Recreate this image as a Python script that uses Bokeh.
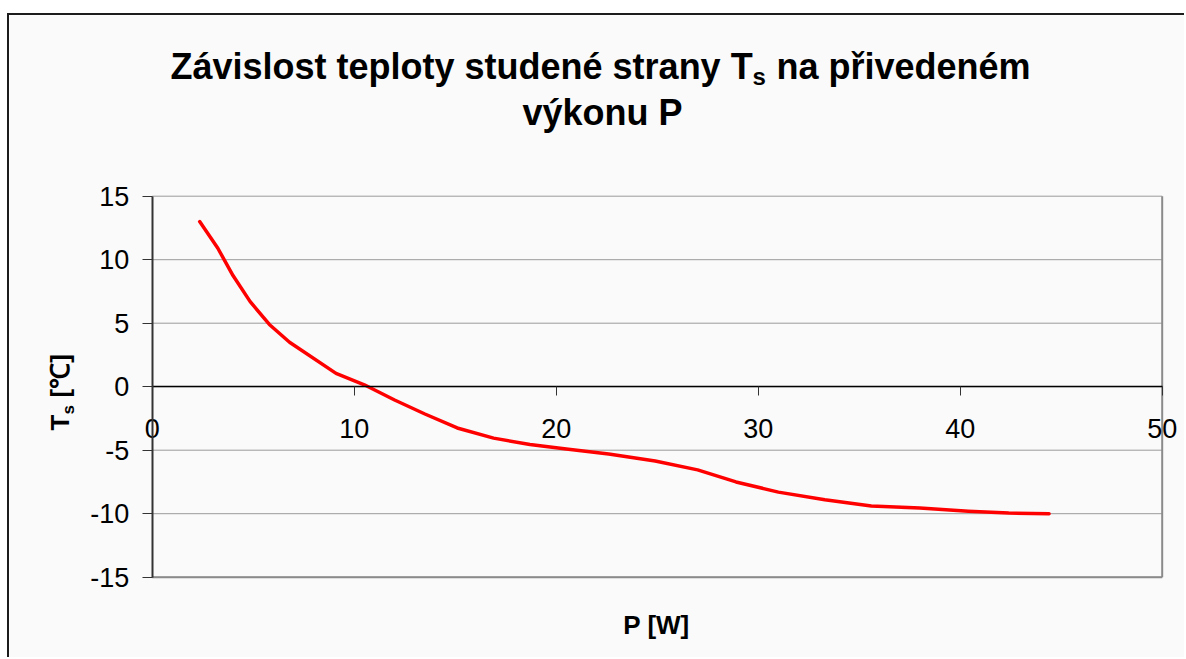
import math
from bokeh.plotting import figure
from bokeh.models import Range1d, LinearAxis, FixedTicker, PrintfTickFormatter
from bokeh.core.properties import value
from bokeh.embed import file_html
from bokeh.resources import INLINE

# Data
P = [2.35, 3.25, 4.0, 4.85, 5.8, 6.8, 9.1, 10.5, 12.0, 13.5, 15.1, 16.9, 18.7,
     20.5, 22.6, 24.9, 27.0, 28.9, 31.0, 33.3, 35.6, 38.0, 40.4, 42.4, 44.4]
Ts = [13.0, 10.9, 8.75, 6.7, 4.9, 3.5, 1.05, 0.15, -1.05, -2.15, -3.25, -4.05, -4.55,
      -4.9, -5.3, -5.85, -6.55, -7.5, -8.3, -8.9, -9.4, -9.55, -9.8, -9.95, -10.0]
x_ticks = [0, 10, 20, 30, 40, 50]
y_ticks = [-15, -10, -5, 0, 5, 10, 15]

FONT = "Liberation Sans"
BG = "#fafafa"
W, H = 1177, 644
OX, OY = 9, 15            # page position of canvas origin
X0PX, XSC = 151.7, 20.2   # page x of P=0, px per unit
Y0PX, YSC = 386.2, 12.7   # page y of T=0, px per unit


def xd(px):
    return (px - X0PX) / XSC


def yd(py):
    return (Y0PX - py) / YSC


p = figure(width=W, height=H, output_backend="svg", toolbar_location=None,
           x_range=Range1d(xd(OX), xd(OX + W)), y_range=Range1d(yd(OY + H), yd(OY)),
           x_axis_location=None, y_axis_location=None,
           min_border=0)
p.styles = {"border-left": "2px solid #1c1c1c", "border-top": "2px solid #1c1c1c",
            "margin-top": "13px", "margin-left": "7px"}
p.background_fill_color = BG
p.border_fill_color = BG
p.outline_line_color = None
p.xgrid.visible = False
p.ygrid.visible = False

# horizontal gridlines of the plot area
p.segment(x0=x_ticks[0], x1=x_ticks[-1], y0=y_ticks, y1=y_ticks,
          line_color="#9a9a9a", line_width=1)
# right and bottom edges of the plot area
p.segment(x0=[x_ticks[0], x_ticks[-1]], x1=[x_ticks[-1], x_ticks[-1]],
          y0=[y_ticks[0], y_ticks[0]], y1=[y_ticks[0], y_ticks[-1]],
          line_color="#8a8a8a", line_width=2)

# data line
p.line(P, Ts, line_color="#ff0000", line_width=3.5, line_join="round",
       line_cap="round")

# x axis crossing at T = 0
xa = LinearAxis(fixed_location=0, ticker=FixedTicker(ticks=x_ticks),
                bounds=(x_ticks[0], x_ticks[-1]),
                formatter=PrintfTickFormatter(format="%d"))
xa.major_tick_in = 0
xa.major_tick_out = 9
xa.minor_tick_out = 0
xa.minor_tick_in = 0
xa.axis_line_color = "black"
xa.axis_line_width = 1.5
xa.major_tick_line_color = "#333333"
xa.major_label_text_font = FONT
xa.major_label_text_font_size = "27px"
xa.major_label_text_color = "black"
xa.major_label_standoff = 23
p.add_layout(xa, "below")

# y axis at P = 0
ya = LinearAxis(fixed_location=0, ticker=FixedTicker(ticks=y_ticks),
                bounds=(y_ticks[0], y_ticks[-1]),
                formatter=PrintfTickFormatter(format="%d"))
ya.major_tick_in = 0
ya.major_tick_out = 10
ya.minor_tick_out = 0
ya.minor_tick_in = 0
ya.axis_line_color = "#333333"
ya.axis_line_width = 2
ya.major_tick_line_color = "#333333"
ya.major_label_text_font = FONT
ya.major_label_text_font_size = "27px"
ya.major_label_text_color = "black"
ya.major_label_standoff = 13
p.add_layout(ya, "left")

K = 0.32  # baseline correction (fraction of font size)


def txt(text, px, py, size, align="left", rotated=False):
    if rotated:
        px = px - K * size
    else:
        py = py - K * size
    p.text(x=[xd(px)], y=[yd(py)], text=[text], text_font=value(FONT),
           text_font_size=value(f"{size}px"), text_font_style=value("bold"),
           text_align=value(align), text_baseline=value("alphabetic"),
           text_color="black", angle=math.pi / 2 if rotated else 0.0)


# Title line 1 with subscript
txt("Závislost teploty studené strany T", 170, 78, 36)
txt("s", 752, 84, 24)
txt("na přivedeném", 776, 78, 36)
# Title line 2
txt("výkonu P", 602, 124, 36, align="center")

# x axis title
txt("P [W]", 656, 633, 26, align="center")

# y axis title (rotated), with subscript
txt("T", 68, 430, 26, rotated=True)
txt("s", 73, 414, 17, rotated=True)
txt("[℃]", 68, 397, 26, rotated=True)

open("out.html", "w").write(file_html(p, INLINE))
